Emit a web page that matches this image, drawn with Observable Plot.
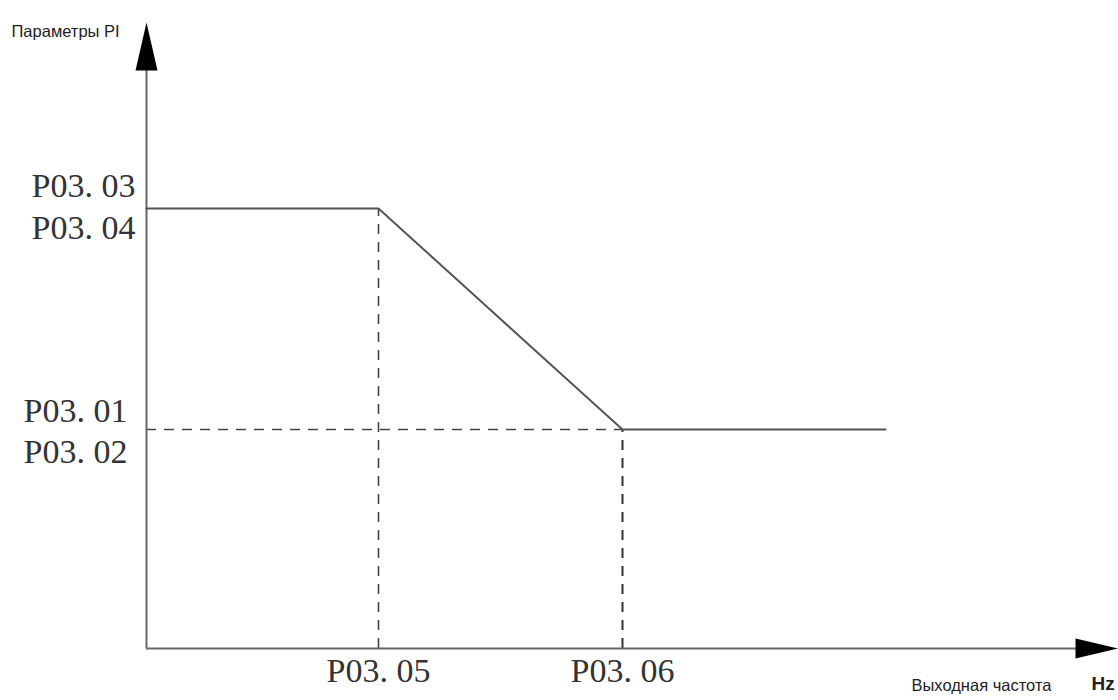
<!DOCTYPE html>
<html><head><meta charset="utf-8">
<script src="https://cdn.jsdelivr.net/npm/d3@7"></script>
<script src="https://cdn.jsdelivr.net/npm/@observablehq/plot@0.6"></script>
<style>body{margin:0;background:#fff;}</style>
</head><body><div id="chart"></div>
<script>
// Frequency positions (arbitrary units along output frequency axis)
const freqBreaks = [0, 23.2, 47.6, 73.9];      // origin, P03.05, P03.06, end of curve
const xTickLabels = ["P03.\u00a005", "P03.\u00a006"];
// PI parameter levels
const levels = [4.40, 2.19];                     // high (P03.03/P03.04), low (P03.01/P03.02)
const levelLabelsTop = ["P03.\u00a003", "P03.\u00a001"];
const levelLabelsBottom = ["P03.\u00a004", "P03.\u00a002"];
const xMax = 97.2, yMax = 6.26;
const yAxisTitle = "Параметры PI";
const xAxisTitle = "Выходная частота";
const xUnit = "Hz";

const curve = [
  {f: freqBreaks[0], p: levels[0]},
  {f: freqBreaks[1], p: levels[0]},
  {f: freqBreaks[2], p: levels[1]},
  {f: freqBreaks[3], p: levels[1]}
];

const upTri = {draw(ctx){ctx.moveTo(0,-24);ctx.lineTo(11,24);ctx.lineTo(-11,24);ctx.closePath();}};
const rightTri = {draw(ctx){ctx.moveTo(21.5,0);ctx.lineTo(-21.5,-10);ctx.lineTo(-21.5,10);ctx.closePath();}};

const serif = "'Liberation Serif', 'DejaVu Serif', serif";
const sans = "'Liberation Sans', Arial, sans-serif";

const chart = Plot.plot({
  width: 1118, height: 700,
  marginLeft: 146, marginRight: 0, marginTop: 22, marginBottom: 52,
  x: {domain: [0, xMax], axis: null},
  y: {domain: [0, yMax], axis: null},
  marks: [
    // dashed guides
    Plot.ruleY([levels[1]], {x1: 0, x2: freqBreaks[2], stroke: "#444", strokeWidth: 1.6, strokeDasharray: "10,8"}),
    Plot.ruleX([freqBreaks[1]], {y1: 0, y2: levels[0], stroke: "#444", strokeWidth: 1.6, strokeDasharray: "10,8"}),
    Plot.ruleX([freqBreaks[2]], {y1: 0, y2: levels[1], stroke: "#333", strokeWidth: 2, strokeDasharray: "10,8"}),
    // axes
    Plot.ruleX([0], {y1: 0, y2: 5.8, stroke: "#666", strokeWidth: 2}),
    Plot.ruleY([0], {x1: 0, x2: 95, stroke: "#666", strokeWidth: 2}),
    Plot.dot([{f: 0, p: 6.02}], {x: "f", y: "p", symbol: upTri, fill: "#000", stroke: "none"}),
    Plot.dot([{f: 95.05, p: 0}], {x: "f", y: "p", symbol: rightTri, fill: "#000", stroke: "none"}),
    // curve
    Plot.line(curve, {x: "f", y: "p", stroke: "#555", strokeWidth: 2}),
    // y labels
    Plot.text([0], {x: 0, y: () => levels[0], text: () => levelLabelsTop[0], textAnchor: "end", dx: -11, dy: -22, fontFamily: serif, fontSize: 34, fill: "#333"}),
    Plot.text([0], {x: 0, y: () => levels[0], text: () => levelLabelsBottom[0], textAnchor: "end", dx: -11, dy: 20, fontFamily: serif, fontSize: 34, fill: "#333"}),
    Plot.text([0], {x: 0, y: () => levels[1], text: () => levelLabelsTop[1], textAnchor: "end", dx: -19, dy: -18, fontFamily: serif, fontSize: 34, fill: "#333"}),
    Plot.text([0], {x: 0, y: () => levels[1], text: () => levelLabelsBottom[1], textAnchor: "end", dx: -19, dy: 23, fontFamily: serif, fontSize: 34, fill: "#333"}),
    // x labels
    Plot.text(xTickLabels, {x: (d, i) => freqBreaks[i + 1], y: 0, text: d => d, dy: 23, fontFamily: serif, fontSize: 34, fill: "#333"}),
    // titles
    Plot.text([yAxisTitle], {frameAnchor: "top-left", text: d => d, dx: -135, dy: 3, textAnchor: "start", fontFamily: sans, fontSize: 16.5, fill: "#222"}),
    Plot.text([xAxisTitle], {frameAnchor: "bottom-left", text: d => d, dx: 911 - 146, dy: 42, textAnchor: "start", fontFamily: sans, fontSize: 16.5, fill: "#222"}),
    Plot.text([xUnit], {frameAnchor: "bottom-left", text: d => d, dx: 1091 - 146, dy: 41, textAnchor: "start", fontFamily: sans, fontSize: 19, fontWeight: "bold", fill: "#222"})
  ]
});
document.getElementById("chart").appendChild(chart);
</script>
</body></html>
